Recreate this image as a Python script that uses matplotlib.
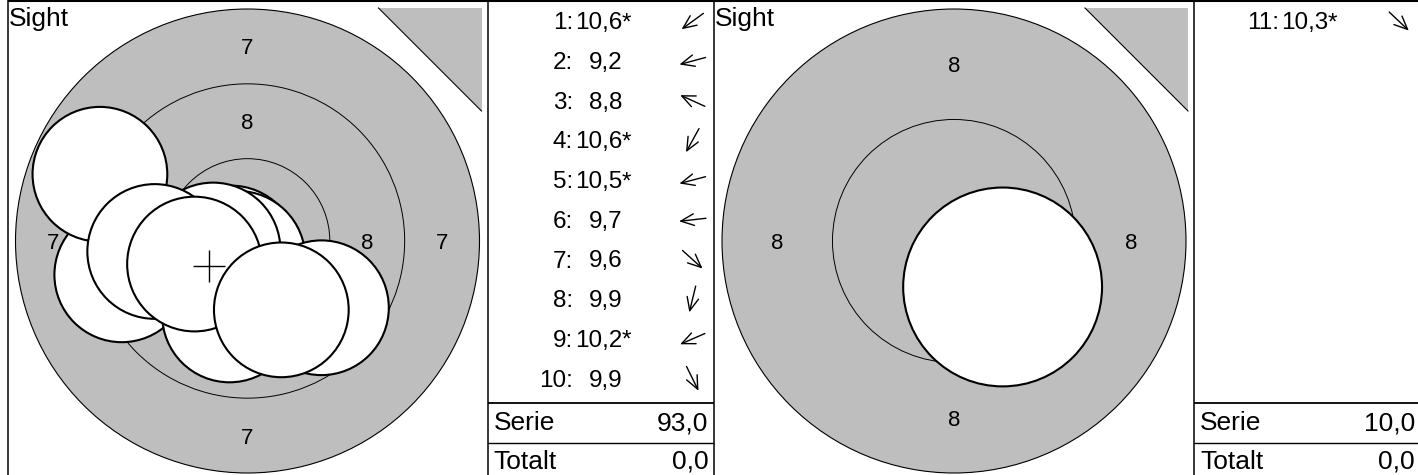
import numpy as np
import matplotlib
matplotlib.use("Agg")
import matplotlib.pyplot as plt
from matplotlib.patches import Circle, Polygon
from matplotlib import transforms

W, H, DPI = 1418, 475, 100
plt.rcParams['font.family'] = ['Liberation Sans', 'DejaVu Sans']

# ---------------- data ----------------
ring_radius_mm = {7: 7.75, 8: 5.25, 9: 2.75}
pellet_radius_mm = 2.25

left_rings = [7, 8, 9]
left_label_rings = [7, 8]
right_rings = [8, 9]
right_label_rings = [8]

s1_numbers = [1, 2, 3, 4, 5, 6, 7, 8, 9, 10]
s1_scores = ["10,6", "9,2", "8,8", "10,6", "10,5", "9,7", "9,6", "9,9", "10,2", "9,9"]
s1_inner = [True, False, False, True, True, False, False, False, True, False]
s1_x = [-0.55, -4.20, -4.93, -0.32, -1.15, -3.10, 2.47, -0.60, -1.77, 1.13]
s1_y = [-0.40, -1.13, 2.23, -0.58, -0.30, -0.35, -2.23, -2.47, -0.77, -2.30]
s1_serie = "93,0"
s1_totalt = "0,0"

s2_numbers = [11]
s2_scores = ["10,3"]
s2_inner = [True]
s2_x = [1.10]
s2_y = [-1.04]
s2_serie = "10,0"
s2_totalt = "0,0"

GRAY = '#bebebe'
FS_LIST = 17.5
FS_BIG = 19
FS_RING = 16

fig = plt.figure(figsize=(W / DPI, H / DPI), dpi=DPI)


def target_axes(x0, x1, outer_r_mm):
    scale = 232.0 / outer_r_mm
    cx = (x0 + x1) / 2.0
    cy = 241.0
    top, bottom = 2.0, float(H)
    ax = fig.add_axes([x0 / W, 1 - bottom / H, (x1 - x0) / W, (bottom - top) / H])
    ax.set_xlim((x0 - cx) / scale, (x1 - cx) / scale)
    ax.set_ylim((cy - bottom) / scale, (cy - top) / scale)
    ax.axis('off')
    ax.patch.set_visible(False)
    return ax


def draw_target(ax, rings, label_rings, xs, ys, show_mean):
    outer = rings[0]
    ax.add_patch(Circle((0, 0), ring_radius_mm[outer], facecolor=GRAY,
                        edgecolor='black', lw=0.8, zorder=1))
    for r in rings[1:]:
        ax.add_patch(Circle((0, 0), ring_radius_mm[r], facecolor='none',
                            edgecolor='black', lw=0.7, zorder=1.5))
    lab_tr = transforms.offset_copy(ax.transData, fig=fig, x=0, y=-8, units='dots')
    for r in label_rings:
        inner_r = ring_radius_mm.get(r + 1, 0)
        mid = (ring_radius_mm[r] + inner_r) / 2.0
        for (px, py) in [(0, mid), (0, -mid), (mid, 0), (-mid, 0)]:
            ax.text(px, py, str(r), ha='center', va='baseline', fontsize=FS_RING,
                    transform=lab_tr, zorder=2)
    for i, (x, y) in enumerate(zip(xs, ys)):
        ax.add_patch(Circle((x, y), pellet_radius_mm, facecolor='white',
                            edgecolor='black', lw=1.5, zorder=3 + i * 0.01))
    if show_mean and len(xs) > 1:
        ax.plot([np.mean(xs)], [np.mean(ys)], marker='+', ms=23, mew=1.0,
                color='black', zorder=10)


# panels (pixel layout)
LT = (7.5, 487.5)
LL = (487.5, 714.0)
RT = (714.0, 1194.0)
RL = (1194.0, 1421.0)

axL = target_axes(LT[0], LT[1], ring_radius_mm[left_rings[0]])
draw_target(axL, left_rings, left_label_rings, s1_x, s1_y, True)
axR = target_axes(RT[0], RT[1], ring_radius_mm[right_rings[0]])
draw_target(axR, right_rings, right_label_rings, s2_x, s2_y, False)

# overlay for frame, list, text
bg = fig.add_axes([0, 0, 1, 1], zorder=5)
bg.set_xlim(0, W)
bg.set_ylim(H, 0)
bg.axis('off')
bg.patch.set_visible(False)

# frame lines
bg.plot([LT[0], W], [1.0, 1.0], color='black', lw=1.5, solid_capstyle='butt')
for xv in [LT[0], LL[0], RT[0], RL[0]]:
    bg.plot([xv, xv], [0, H], color='black', lw=1.1, solid_capstyle='butt')
for (a, b) in [LL, RL]:
    bg.plot([a, b], [403, 403], color='black', lw=1.3, solid_capstyle='butt')
    bg.plot([a, b], [443, 443], color='black', lw=1.0, solid_capstyle='butt')

# corner triangles + Sight labels
for (a, b) in [LT, RT]:
    xr = b - 6
    tri = Polygon([(xr - 103, 8), (xr, 8), (xr, 111)], closed=True,
                  facecolor=GRAY, edgecolor='none')
    bg.add_patch(tri)
    bg.plot([xr - 103, xr], [8, 111], color='black', lw=0.8)
    bg.text(a + 1.0, 26, 'Sight', fontsize=FS_BIG, ha='left', va='baseline')


def draw_list(col, numbers, scores, inner, xs, ys, serie, totalt):
    c0 = col[0]
    for i, (n, s, st, x, y) in enumerate(zip(numbers, scores, inner, xs, ys)):
        by = 29.3 + 39.7 * i
        bg.text(c0 + 85.5, by, f"{n}:", ha='right', va='baseline', fontsize=FS_LIST)
        bg.text(c0 + 134.5, by, s, ha='right', va='baseline', fontsize=FS_LIST)
        if st:
            bg.text(c0 + 134.0, by, '*', ha='left', va='baseline', fontsize=FS_LIST)
        d = np.array([x, -y]) / np.hypot(x, y)
        cen = np.array([c0 + 205.0, by - 8.0])
        tail = cen - d * 13.5
        tip = cen + d * 13.5
        bg.annotate('', xy=tip, xytext=tail,
                    arrowprops=dict(arrowstyle='->,head_length=0.95,head_width=0.42',
                                    lw=1.0, color='black', shrinkA=0, shrinkB=0))
    bg.text(c0 + 6, 430, 'Serie', ha='left', va='baseline', fontsize=FS_BIG)
    bg.text(c0 + 221, 430, serie, ha='right', va='baseline', fontsize=FS_BIG)
    bg.text(c0 + 6, 469, 'Totalt', ha='left', va='baseline', fontsize=FS_BIG)
    bg.text(c0 + 221, 469, totalt, ha='right', va='baseline', fontsize=FS_BIG)


draw_list(LL, s1_numbers, s1_scores, s1_inner, s1_x, s1_y, s1_serie, s1_totalt)
draw_list(RL, s2_numbers, s2_scores, s2_inner, s2_x, s2_y, s2_serie, s2_totalt)

fig.savefig('out.png', dpi=DPI)
